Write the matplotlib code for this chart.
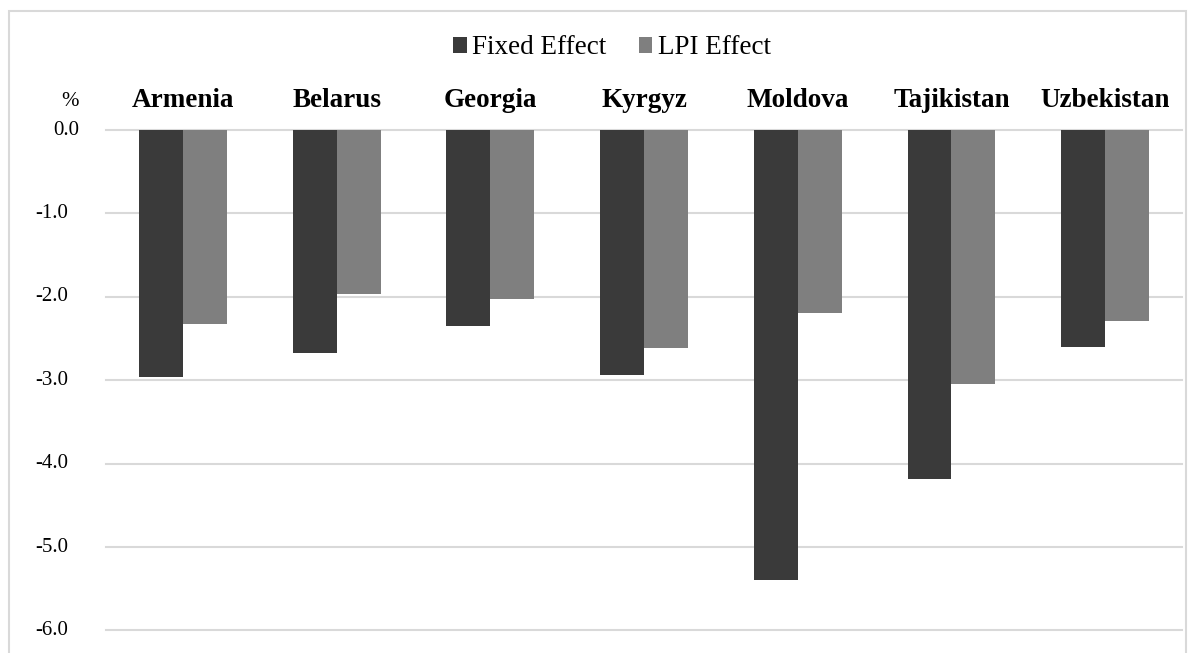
import matplotlib
matplotlib.use('Agg')
import matplotlib.pyplot as plt
import matplotlib.transforms as mtransforms
from matplotlib.patches import Rectangle
import numpy as np

# --- data ---
countries = ['Armenia', 'Belarus', 'Georgia', 'Kyrgyz', 'Moldova', 'Tajikistan', 'Uzbekistan']
fixed_effect = [-2.96, -2.67, -2.35, -2.94, -5.40, -4.19, -2.60]
lpi_effect = [-2.33, -1.97, -2.03, -2.61, -2.20, -3.04, -2.29]
y_ticks = [0, -1, -2, -3, -4, -5, -6]

plt.rcParams['font.family'] = ['Liberation Serif', 'DejaVu Serif']

DARK = '#3a3a3a'
LIGHT = '#7f7f7f'
GRID = '#d9d9d9'

fig = plt.figure(figsize=(11.94, 6.53), dpi=100)
ax = fig.add_axes([0.0888, 0.0346, 0.990 - 0.0888, 0.8009 - 0.0346])

x = np.arange(len(countries))
w = 0.286
ax.bar(x - w / 2, fixed_effect, w, color=DARK, label='Fixed Effect', zorder=3)
ax.bar(x + w / 2, lpi_effect, w, color=LIGHT, label='LPI Effect', zorder=3)

ax.set_xlim(-0.5, len(countries) - 0.5)
ax.set_ylim(-6, 0)

# gridlines
for v in y_ticks:
    ax.axhline(v, color=GRID, lw=1.5, zorder=1, clip_on=False)

# category labels on top
ax.xaxis.tick_top()
ax.set_xticks(x)
ax.set_xticklabels(countries, fontsize=19.5, fontweight='bold')
ax.tick_params(axis='x', length=0, pad=12)

# y tick labels drawn as text (zero sits a bit further right, as in the source)
ax.set_yticks([])
trans = mtransforms.blended_transform_factory(fig.transFigure, ax.transData)
for v in y_ticks:
    xr = 79 / 1194 if v == 0 else 68 / 1194
    ax.text(xr, v, f'{v:.1f}', transform=trans, ha='right', va='center',
            fontsize=15, clip_on=False)

fig.text(70 / 1194, 1 - 101 / 653, '%', ha='center', va='center', fontsize=15)

for s in ax.spines.values():
    s.set_visible(False)

leg = fig.legend(loc='center', bbox_to_anchor=(612 / 1194, 1 - 48 / 653), ncol=2,
                 frameon=False, fontsize=19.5, handlelength=0.5, handleheight=0.5,
                 handletextpad=0.2, columnspacing=1.2)

# outer frame of the chart
fig.patches.append(Rectangle((9 / 1194, -0.05), (1186 - 9) / 1194, 1.05 - 10.5 / 653,
                             transform=fig.transFigure, fill=False,
                             edgecolor=GRID, lw=1.5))

fig.savefig('out.png', dpi=100)
